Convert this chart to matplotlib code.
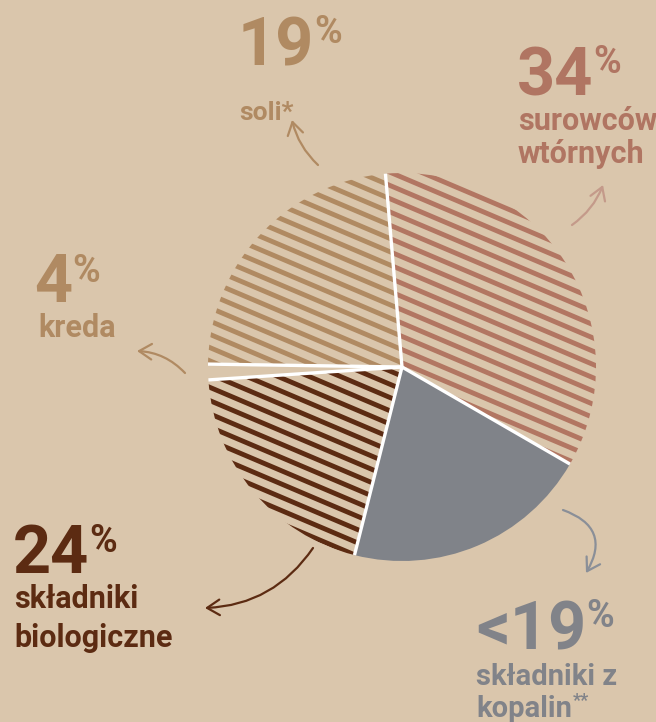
import numpy as np
import matplotlib.pyplot as plt
from matplotlib.patches import FancyArrowPatch

# Data: slices clockwise from the top of the pie
labels = ['surowców wtórnych', 'składniki z kopalin', 'składniki biologiczne', 'kreda', 'soli*']
percent_text = ['34', '<19', '24', '4', '19']
# share of the circle each slice takes in the drawing (percent)
slice_shares = [34.7, 20.6, 20.0, 1.3, 23.4]
label_lines = [['surowców', 'wtórnych'], ['składniki z', 'kopalin'],
               ['składniki', 'biologiczne'], ['kreda'], ['soli*']]

BG = '#dac6ac'
slice_colors = ['#b27662', '#808389', '#5c2b12', BG, '#b08a62']
hatched = [True, False, True, False, True]

FONT = ['Roboto', 'DejaVu Sans']

fig = plt.figure(figsize=(6.56, 7.22), dpi=100)
fig.patch.set_facecolor(BG)
ax = fig.add_axes([0, 0, 1, 1])
ax.set_facecolor(BG)

center = (402, 367)
radius = 194
start = -94.9

wedges, _ = ax.pie(slice_shares, startangle=start, counterclock=True,
                   center=center, radius=radius, colors=slice_colors,
                   wedgeprops=dict(linewidth=0))
ax.set_xlim(0, 656)
ax.set_ylim(722, 0)
ax.set_aspect('equal')
ax.axis('off')

# diagonal stripes in the hatched slices
ang = np.deg2rad(23)
d = np.array([np.cos(ang), np.sin(ang)])
n = np.array([-np.sin(ang), np.cos(ang)])
for w, col, h in zip(wedges, slice_colors, hatched):
    if not h:
        continue
    w.set_facecolor(BG)
    for off in np.arange(-260, 260, 12.2):
        p = np.array(center) + n * off
        a, b = p - d * 300, p + d * 300
        ln, = ax.plot([a[0], b[0]], [a[1], b[1]], color=col, lw=3.5,
                      solid_capstyle='butt')
        ln.set_clip_path(w)

# white separators between slices
bounds = start + 360 * np.concatenate([[0], np.cumsum(slice_shares)[:-1]]) / 100
for t in np.deg2rad(bounds):
    ax.plot([center[0], center[0] + radius * np.cos(t)],
            [center[1], center[1] + radius * np.sin(t)],
            color='white', lw=2.4, solid_capstyle='butt')

# text blocks: (number x, number baseline, % baseline, label x, label baselines, label size)
text_pos = [
    (517, 95, 73, 518, [130, 163], 22),
    (476, 650, 627, 476, [685, 717], 21),
    (13, 573, 552, 14, [608, 647], 22),
    (34, 302, 282, 38, [337], 22),
    (238, 65, 43, 239, [120], 19),
]
text_colors = ['#b07562', '#818389', '#5c2b12', '#b08a62', '#b08a62']

line_texts = {}
for i, (nx, ny, py, lx, lys, fs) in enumerate(text_pos):
    c = text_colors[i]
    num = ax.text(nx, ny, percent_text[i], fontsize=48, fontweight='bold', color=c,
                  family=FONT, va='baseline', ha='left')
    # % sign as a superscript right after the number
    ax.annotate('%', xy=(1.0, py), xycoords=(num, 'data'), xytext=(0, 0),
                textcoords='offset points', fontsize=27, fontweight='bold',
                color=c, family=FONT, va='baseline', ha='left')
    for line, ly in zip(label_lines[i], lys):
        line_texts[line] = ax.text(lx, ly, line, fontsize=fs, fontweight='bold',
                                   color=c, family=FONT, va='baseline', ha='left')

# footnote marks on "kopalin"
ax.annotate('**', xy=(1.0, 706), xycoords=(line_texts['kopalin'], 'data'),
            xytext=(0.5, 0), textcoords='offset points', fontsize=13,
            fontweight='bold', color=text_colors[1], family=FONT,
            va='baseline', ha='left')

# hand drawn style arrows: (tail, tip, rad, colour)
arrows = [
    ((572, 225), (603, 185), 0.15, '#c49a8a'),
    ((563, 510), (586, 573), -0.6, '#8a8f98'),
    ((313, 548), (205, 608), -0.25, '#5c2b12'),
    ((185, 373), (137, 351), 0.2, '#b08a62'),
    ((318, 165), (292, 120), -0.15, '#b08a62'),
]
for tail, tip, rad, c in arrows:
    ar = FancyArrowPatch(tail, tip, arrowstyle='->,head_length=0.45,head_width=0.28',
                         connectionstyle='arc3,rad=%s' % rad, color=c, lw=1.6,
                         mutation_scale=20, shrinkA=0, shrinkB=0)
    ax.add_patch(ar)

fig.savefig('out.png', dpi=100, facecolor=BG)
